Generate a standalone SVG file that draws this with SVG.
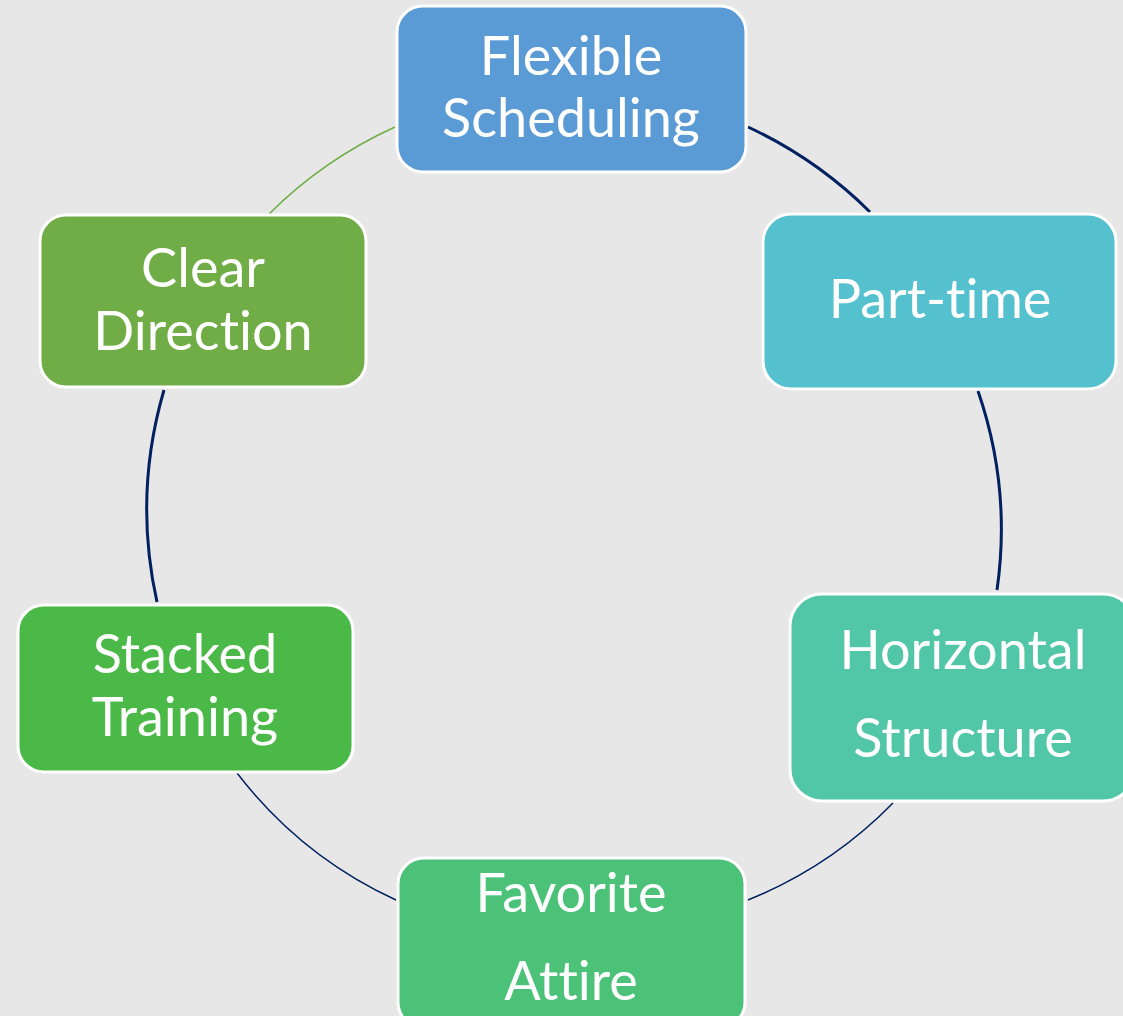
<svg xmlns="http://www.w3.org/2000/svg" width="1123" height="1016" viewBox="0 0 1123 1016">
<style>
.node rect{stroke:#fff;stroke-width:3}
.node text{font-family:Lato,"Liberation Sans",sans-serif;font-size:54px;fill:#fff;text-anchor:middle;font-variant-ligatures:none;font-feature-settings:"liga" 0}
.conn path{fill:none;stroke:#002060}
.conn path.green{stroke:#70AD47}
</style>
<rect x="0" y="0" width="1123" height="1016" fill="#E7E7E7"/>
<g id="connectors" class="conn">
<path d="M748,127 A430,430 0 0 1 870,212" stroke-width="3"/>
<path d="M978,391 A426,426 0 0 1 997,590" stroke-width="3"/>
<path d="M893,803 A426,426 0 0 1 748,900" stroke-width="1.5"/>
<path d="M396,900 A426,426 0 0 1 237,773" stroke-width="1.5"/>
<path d="M157,602 A426,426 0 0 1 164,390" stroke-width="3"/>
<path class="green" d="M269,214 A430,430 0 0 1 395,127" stroke-width="1.5"/>
</g>
<g id="n-flexible" class="node">
<rect x="397" y="6" width="349" height="166" rx="26" fill="#5B9BD5"/>
<text x="571" y="75">Flexible</text>
<text x="571" y="137">Scheduling</text>
</g>
<g id="n-parttime" class="node">
<rect x="763" y="214" width="353" height="175" rx="28" fill="#55C1CF"/>
<text x="940" y="318">Part-time</text>
</g>
<g id="n-horizontal" class="node">
<rect x="790" y="594" width="345" height="207" rx="32" fill="#52C7A8"/>
<text x="963" y="669">Horizontal</text>
<text x="963" y="757">Structure</text>
</g>
<g id="n-favorite" class="node">
<rect x="398" y="858" width="347" height="170" rx="26" fill="#4CC279"/>
<text x="571" y="912">Favorite</text>
<text x="571" y="1000">Attire</text>
</g>
<g id="n-stacked" class="node">
<rect x="18" y="605" width="335" height="167" rx="26" fill="#4BB947"/>
<text x="185" y="673">Stacked</text>
<text x="185" y="736">Training</text>
</g>
<g id="n-clear" class="node">
<rect x="40" y="215" width="326" height="172" rx="26" fill="#70AD47"/>
<text x="203" y="287">Clear</text>
<text x="203" y="350">Direction</text>
</g>
</svg>
